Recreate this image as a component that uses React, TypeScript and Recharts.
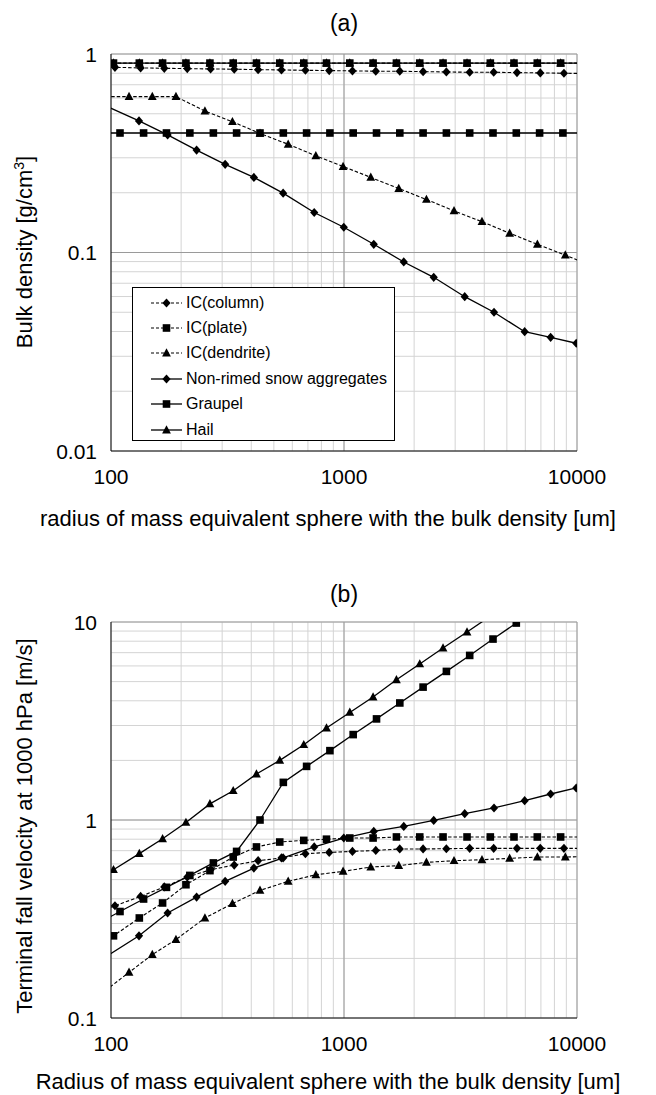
import React from "react";
import {
    LineChart,
    Line,
    XAxis,
    YAxis,
    CartesianGrid,
    ReferenceLine,
    Legend,
} from "recharts";

const FONT = "'Liberation Sans', Arial, sans-serif";

// radius of mass equivalent sphere [um] for each size bin, per particle type
const radiusColumn = [81, 104, 134, 169.3, 212.5, 267.6, 338, 428, 539, 683, 864, 1087, 1369, 1735, 2185, 2750, 3463, 4390, 5526, 6958, 8790, 11070];
const radiusPlate = [81.4, 102.5, 132.3, 166.5, 209.7, 265.8, 334.6, 421, 530, 672, 841, 1059, 1333, 1679, 2114, 2661, 3373, 4246, 5364, 6754, 8506, 10710];
const radiusDendrite = [94.9, 119.5, 150.4, 190, 253, 332, 436, 576, 757, 991, 1303, 1718, 2258, 2966, 3910, 5140, 6760, 8910, 11700];
const radiusSnow = [99.4, 131.9, 175, 233, 309, 410.5, 548, 745, 998, 1342, 1805, 2427, 3297, 4404, 5962, 7706, 9929];
const radiusGraupel = [86.8, 109.3, 138, 173, 218, 275, 346, 436, 549, 691, 870, 1095, 1379, 1736, 2185, 2751, 3463, 4360, 5489, 6910, 8700, 10960];
const radiusHail = radiusPlate;

// (a) bulk density [g/cm3]
const densColumn = [0.86, 0.857, 0.851, 0.847, 0.844, 0.841, 0.838, 0.834, 0.831, 0.828, 0.825, 0.822, 0.819, 0.819, 0.815, 0.812, 0.809, 0.809, 0.806, 0.803, 0.8, 0.797];
const densPlate = [0.9, 0.9, 0.9, 0.9, 0.9, 0.9, 0.9, 0.9, 0.9, 0.9, 0.9, 0.9, 0.9, 0.9, 0.9, 0.9, 0.9, 0.9, 0.9, 0.9, 0.9, 0.9];
const densDendrite = [0.61, 0.61, 0.61, 0.61, 0.516, 0.456, 0.398, 0.351, 0.307, 0.271, 0.239, 0.21, 0.185, 0.162, 0.143, 0.125, 0.11, 0.097, 0.085];
const densSnow = [0.535, 0.46, 0.391, 0.328, 0.278, 0.239, 0.199, 0.159, 0.134, 0.11, 0.0896, 0.075, 0.0599, 0.05, 0.0399, 0.0374, 0.0349];
const densGraupel = [0.4, 0.4, 0.4, 0.4, 0.4, 0.4, 0.4, 0.4, 0.4, 0.4, 0.4, 0.4, 0.4, 0.4, 0.4, 0.4, 0.4, 0.4, 0.4, 0.4, 0.4, 0.4];
const densHail = [0.9, 0.9, 0.9, 0.9, 0.9, 0.9, 0.9, 0.9, 0.9, 0.9, 0.9, 0.9, 0.9, 0.9, 0.9, 0.9, 0.9, 0.9, 0.9, 0.9, 0.9, 0.9];

// (b) terminal fall velocity at 1000 hPa [m/s]
const velColumn = [0.331, 0.369, 0.411, 0.459, 0.515, 0.561, 0.592, 0.623, 0.643, 0.676, 0.686, 0.694, 0.702, 0.714, 0.714, 0.716, 0.719, 0.719, 0.719, 0.719, 0.719, 0.719];
const velPlate = [0.211, 0.26, 0.32, 0.381, 0.471, 0.555, 0.65, 0.731, 0.774, 0.789, 0.8, 0.811, 0.811, 0.821, 0.821, 0.821, 0.821, 0.821, 0.821, 0.821, 0.821, 0.821];
const velDendrite = [0.138, 0.17, 0.209, 0.249, 0.32, 0.378, 0.441, 0.49, 0.529, 0.55, 0.579, 0.588, 0.611, 0.623, 0.63, 0.64, 0.65, 0.65, 0.655];
const velSnow = [0.211, 0.26, 0.339, 0.408, 0.49, 0.572, 0.643, 0.731, 0.811, 0.876, 0.928, 0.995, 1.076, 1.15, 1.252, 1.353, 1.451];
const velGraupel = [0.298, 0.345, 0.399, 0.457, 0.525, 0.607, 0.694, 1.0, 1.549, 1.866, 2.24, 2.7, 3.24, 3.9, 4.69, 5.63, 6.78, 8.2, 9.88];
const velHail = [0.466, 0.561, 0.676, 0.804, 0.972, 1.206, 1.406, 1.707, 2.0, 2.4, 2.915, 3.494, 4.18, 5.11, 6.14, 7.39, 8.9, 10.7];

// axis ticks (log grid)
const xTicks = [100, 200, 300, 400, 500, 600, 700, 800, 900, 1000, 2000, 3000, 4000, 5000, 6000, 7000, 8000, 9000, 10000];
const xLabels = [100, 1000, 10000];
const yTicksA = [0.01, 0.02, 0.03, 0.04, 0.05, 0.06, 0.07, 0.08, 0.09, 0.1, 0.2, 0.3, 0.4, 0.5, 0.6, 0.7, 0.8, 0.9, 1];
const yLabelsA = [0.01, 0.1, 1];
const yTicksB = [0.1, 0.2, 0.3, 0.4, 0.5, 0.6, 0.7, 0.8, 0.9, 1, 2, 3, 4, 5, 6, 7, 8, 9, 10];
const yLabelsB = [0.1, 1, 10];

type Shape = "diamond" | "square" | "triangle";

const series: { name: string; shape: Shape; dashed: boolean; r: number[]; a: number[]; b: number[] }[] = [
    { name: "IC(column)", shape: "diamond", dashed: true, r: radiusColumn, a: densColumn, b: velColumn },
    { name: "IC(plate)", shape: "square", dashed: true, r: radiusPlate, a: densPlate, b: velPlate },
    { name: "IC(dendrite)", shape: "triangle", dashed: true, r: radiusDendrite, a: densDendrite, b: velDendrite },
    { name: "Non-rimed snow aggregates", shape: "diamond", dashed: false, r: radiusSnow, a: densSnow, b: velSnow },
    { name: "Graupel", shape: "square", dashed: false, r: radiusGraupel, a: densGraupel, b: velGraupel },
    { name: "Hail", shape: "triangle", dashed: false, r: radiusHail, a: densHail, b: velHail },
];

const toPoints = (xs: number[], ys: number[]) => ys.map((y, i) => ({ x: xs[i], y }));

const markerShape = (shape: Shape, cx: number, cy: number, key?: string) => {
    if (shape === "diamond") {
        return <polygon key={key} points={`${cx},${cy - 4.6} ${cx + 4.1},${cy} ${cx},${cy + 4.6} ${cx - 4.1},${cy}`} fill="#000" />;
    }
    if (shape === "square") {
        return <rect key={key} x={cx - 3.8} y={cy - 3.8} width={7.6} height={7.6} fill="#000" />;
    }
    return <polygon key={key} points={`${cx},${cy - 4.8} ${cx + 4.4},${cy + 3.4} ${cx - 4.4},${cy + 3.4}`} fill="#000" />;
};

/* eslint-disable @typescript-eslint/no-explicit-any */
const dotRenderer = (shape: Shape, name: string, yMin: number, yMax: number) => (p: any) => {
    const key = `${name}-${p.index}`;
    const d = p.payload;
    if (p.cx == null || p.cy == null || d.x < 100 || d.x > 10000 || d.y < yMin || d.y > yMax) {
        return <g key={key} />;
    }
    return markerShape(shape, p.cx, p.cy, key);
};

const LegendBox = () => (
    <div
        style={{
            boxSizing: "border-box",
            width: 263,
            height: 154,
            border: "1px solid #000",
            background: "#fff",
            paddingTop: 2,
            fontFamily: FONT,
            fontSize: 16,
            color: "#000",
        }}
    >
        {series.map((s) => (
            <div key={s.name} style={{ height: 25.4, display: "flex", alignItems: "center" }}>
                <svg width={50} height={14} style={{ flex: "none" }}>
                    <line
                        x1={18}
                        x2={49}
                        y1={7}
                        y2={7}
                        stroke="#000"
                        strokeWidth={s.dashed ? 1.1 : 1.3}
                        strokeDasharray={s.dashed ? "3 2" : undefined}
                    />
                    {markerShape(s.shape, 33.5, 7)}
                </svg>
                <span style={{ marginLeft: 3, whiteSpace: "nowrap" }}>{s.name}</span>
            </div>
        ))}
    </div>
);

const xTick = (p: any) => {
    const v = p.payload.value;
    if (!xLabels.includes(v)) return <g />;
    return (
        <text x={p.x} y={p.y} dy="0.71em" textAnchor="middle" fontSize={21} fontFamily={FONT} fill="#000">
            {v}
        </text>
    );
};

const yTick = (labels: number[]) => (p: any) => {
    const v = p.payload.value;
    if (!labels.includes(v)) return <g />;
    return (
        <text x={p.x} y={p.y} dy="0.36em" textAnchor="end" fontSize={21} fontFamily={FONT} fill="#000">
            {v}
        </text>
    );
};

interface PanelProps {
    panel: "a" | "b";
    height: number;
    margin: { top: number; right: number; bottom: number; left: number };
    yDomain: [number, number];
    yTicks: number[];
    yLabels: number[];
    yMajor: number[];
    withLegend: boolean;
}

function Panel({ panel, height, margin, yDomain, yTicks, yLabels, yMajor, withLegend }: PanelProps) {
    const drawOrder = [...series].reverse();
    return (
        <LineChart width={656} height={height} margin={margin}>
            <CartesianGrid stroke="#d4d4d4" strokeWidth={1} />
            <ReferenceLine x={1000} stroke="#9a9a9a" strokeWidth={1} />
            <ReferenceLine x={10000} stroke="#9a9a9a" strokeWidth={1} />
            {yMajor.map((v) => (
                <ReferenceLine key={v} y={v} stroke="#9a9a9a" strokeWidth={1} />
            ))}
            <XAxis
                dataKey="x"
                type="number"
                scale="log"
                domain={[100, 10000]}
                allowDataOverflow
                ticks={xTicks}
                interval={0}
                tickSize={0}
                tickMargin={18}
                height={40}
                tickLine={false}
                axisLine={{ stroke: "#000", strokeWidth: 1 }}
                tick={xTick}
            />
            <YAxis
                dataKey="y"
                type="number"
                scale="log"
                domain={yDomain}
                allowDataOverflow
                ticks={yTicks}
                interval={0}
                tickSize={0}
                tickMargin={14}
                width={100}
                tickLine={false}
                axisLine={{ stroke: "#000", strokeWidth: 1 }}
                tick={yTick(yLabels)}
            />
            {drawOrder.map((s) => (
                <Line
                    key={s.name}
                    name={s.name}
                    data={toPoints(s.r, panel === "a" ? s.a : s.b)}
                    dataKey="y"
                    type="linear"
                    stroke="#000"
                    strokeWidth={s.dashed ? 1.1 : 1.3}
                    strokeDasharray={s.dashed ? "3.5 2" : undefined}
                    dot={dotRenderer(s.shape, s.name, yDomain[0], yDomain[1])}
                    activeDot={false}
                    isAnimationActive={false}
                />
            ))}
            {withLegend && (
                <Legend
                    layout="vertical"
                    align="center"
                    verticalAlign="middle"
                    content={<LegendBox />}
                    wrapperStyle={{ left: 132, top: 287, width: 263, height: 154 }}
                />
            )}
        </LineChart>
    );
}

const textStyle: React.CSSProperties = {
    position: "absolute",
    fontFamily: FONT,
    color: "#000",
    textAlign: "center",
    whiteSpace: "nowrap",
};

export default function App() {
    return (
        <div style={{ position: "absolute", left: 0, top: 0, width: 656, height: 1095, background: "#fff", overflow: "hidden" }}>
            {/* (a) bulk density */}
            <div style={{ position: "absolute", left: 0, top: 0 }}>
                <Panel
                    panel="a"
                    height={560}
                    margin={{ top: 54, right: 79, bottom: 69, left: 11 }}
                    yDomain={[0.01, 1]}
                    yTicks={yTicksA}
                    yLabels={yLabelsA}
                    yMajor={[0.1, 1]}
                    withLegend
                />
            </div>
            {/* (b) terminal velocity */}
            <div style={{ position: "absolute", left: 0, top: 560 }}>
                <Panel
                    panel="b"
                    height={535}
                    margin={{ top: 62, right: 79, bottom: 37, left: 11 }}
                    yDomain={[0.1, 10]}
                    yTicks={yTicksB}
                    yLabels={yLabelsB}
                    yMajor={[1, 10]}
                    withLegend={false}
                />
            </div>

            <div style={{ ...textStyle, left: 244, width: 200, top: 9, fontSize: 23, lineHeight: "28px" }}>(a)</div>
            <div style={{ ...textStyle, left: 244, width: 200, top: 580, fontSize: 23, lineHeight: "28px" }}>(b)</div>

            <div style={{ ...textStyle, left: -2, width: 660, top: 506, fontSize: 22, lineHeight: "26px" }}>
                radius of mass equivalent sphere with the bulk density [um]
            </div>
            <div style={{ ...textStyle, left: -2, width: 660, top: 1069, fontSize: 22, lineHeight: "26px" }}>
                Radius of mass equivalent sphere with the bulk density [um]
            </div>

            <div style={{ ...textStyle, left: 25 - 200, width: 400, top: 252 - 14, fontSize: 22, lineHeight: "28px", transform: "rotate(-90deg)" }}>
                Bulk density [g/cm<sup style={{ fontSize: 14, lineHeight: 0 }}>3</sup>]
            </div>
            <div style={{ ...textStyle, left: 25 - 200, width: 400, top: 826 - 14, fontSize: 22, lineHeight: "28px", transform: "rotate(-90deg)" }}>
                Terminal fall velocity at 1000 hPa [m/s]
            </div>
        </div>
    );
}
